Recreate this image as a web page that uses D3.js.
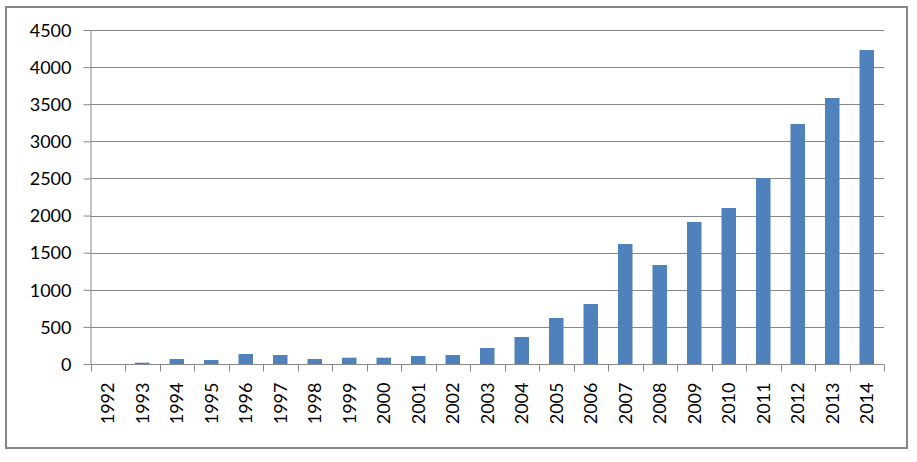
<!DOCTYPE html>
<html>
<head>
    <title></title>
    <script src="https://d3js.org/d3.v7.min.js"></script>
    <style>
        body { margin: 0; background: #fff; }
        svg text { font-family: Lato, "Open Sans", sans-serif; font-size: 18px; fill: #000; }
    </style>
</head>
<body>
    <svg id="chart" width="917" height="462"></svg>
    <script>
    // years and values
    let years = ["1992", "1993", "1994", "1995", "1996", "1997", "1998", "1999",
                 "2000", "2001", "2002", "2003", "2004", "2005", "2006", "2007",
                 "2008", "2009", "2010", "2011", "2012", "2013", "2014"];
    let counts = [0, 18, 67, 54, 135, 121, 67, 85, 85, 108, 121, 216, 364, 620,
                  808, 1617, 1334, 1913, 2102, 2506, 3234, 3584, 4231];
    let yTicks = [0, 500, 1000, 1500, 2000, 2500, 3000, 3500, 4000, 4500];

    let svg = d3.select("#chart");
    let pLeft = 90.5, pRight = 884, pTop = 30, pBottom = 364;

    // outer frame
    svg.append("rect")
        .attr("x", 6).attr("y", 7).attr("width", 901).attr("height", 441)
        .attr("fill", "none").attr("stroke", "#868686").attr("stroke-width", 2);

    let x = d3.scaleBand().domain(years).range([pLeft, pRight]).paddingInner(0.58).paddingOuter(0.29);
    let y = d3.scaleLinear().domain([0, 4500]).range([pBottom, pTop]);

    // gridlines
    svg.append("g").selectAll("line").data(yTicks.slice(1)).enter().append("line")
        .attr("x1", pLeft).attr("x2", pRight)
        .attr("y1", d => Math.round(y(d)) + 0.5).attr("y2", d => Math.round(y(d)) + 0.5)
        .attr("stroke", "#878787");

    // bars
    svg.append("g").selectAll("rect").data(counts).enter().append("rect")
        .attr("x", (d, i) => x(years[i]))
        .attr("width", x.bandwidth())
        .attr("y", d => y(d))
        .attr("height", d => pBottom - y(d))
        .attr("fill", "#4F81BD");

    // y axis
    let yAxis = svg.append("g").attr("transform", "translate(" + pLeft + ",0)")
        .call(d3.axisLeft(y).tickValues(yTicks).tickFormat(d3.format("d"))
              .tickSize(7).tickPadding(12).tickSizeOuter(0));
    yAxis.selectAll("line, path").attr("stroke", "#878787");
    yAxis.selectAll("text").attr("dy", "0.35em");
    yAxis.attr("font-size", null).attr("font-family", null);

    // x axis with ticks between categories
    let xg = svg.append("g").attr("transform", "translate(0," + (pBottom + 0.5) + ")");
    xg.append("line").attr("x1", pLeft).attr("x2", pRight).attr("stroke", "#878787");
    let step = (pRight - pLeft) / years.length;
    xg.selectAll("line.tick").data(d3.range(years.length + 1)).enter().append("line")
        .attr("class", "tick")
        .attr("x1", i => Math.round(pLeft + i * step) + 0.5).attr("x2", i => Math.round(pLeft + i * step) + 0.5)
        .attr("y1", 0).attr("y2", 7).attr("stroke", "#878787");
    xg.selectAll("text").data(years).enter().append("text")
        .attr("transform", d => "translate(" + (x(d) + x.bandwidth() / 2) + ",18) rotate(-90)")
        .attr("text-anchor", "end")
        .attr("dy", "0.35em")
        .text(d => d);
    </script>
</body>
</html>
